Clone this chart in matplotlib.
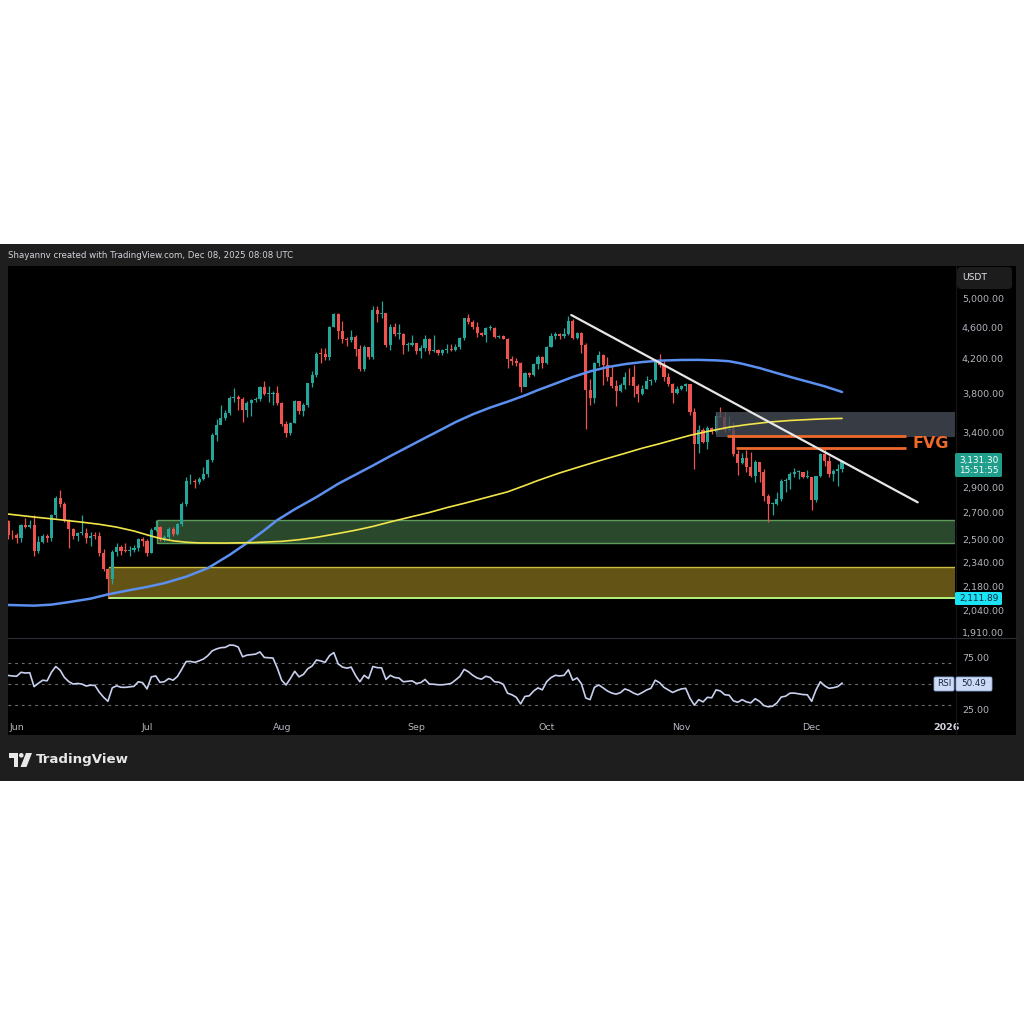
import matplotlib
matplotlib.use("Agg")
import matplotlib.pyplot as plt
import matplotlib.dates as mdates
from matplotlib.patches import Rectangle, FancyBboxPatch, Polygon, Circle
from matplotlib.transforms import blended_transform_factory
from matplotlib.ticker import NullLocator
import pandas as pd

# ---------------- data (ETH/USDT daily) ----------------
first_open = 2632
close_may = [2532, 2528]
high_may = [2645, 2570]
low_may = [2505, 2500]

close_jun = [2508, 2608, 2591, 2608, 2418, 2484, 2524, 2509, 2683, 2815, 2770, 2643, 2578, 2527, 2545,
             2545, 2511, 2526, 2524, 2404, 2298, 2228, 2408, 2445, 2418, 2417, 2424, 2436, 2500, 2486]
high_jun = [2545, 2610, 2660, 2640, 2680, 2525, 2535, 2540, 2690, 2830, 2880, 2780, 2650, 2580, 2550,
            2680, 2580, 2550, 2550, 2550, 2430, 2300, 2425, 2475, 2460, 2470, 2450, 2460, 2510, 2520]
low_jun = [2475, 2480, 2580, 2580, 2385, 2405, 2470, 2480, 2490, 2660, 2740, 2630, 2440, 2500, 2490,
           2530, 2470, 2450, 2500, 2380, 2285, 2112, 2200, 2380, 2390, 2410, 2380, 2410, 2420, 2450]

close_jul = [2406, 2570, 2590, 2508, 2516, 2572, 2540, 2614, 2770, 2952, 2958, 2943, 2972, 3013, 3140, 3371,
             3475, 3545, 3592, 3756, 3762, 3739, 3620, 3703, 3730, 3743, 3873, 3794, 3795, 3811, 3698]
high_jul = [2500, 2580, 2640, 2600, 2530, 2590, 2590, 2620, 2780, 2990, 3020, 2970, 2990, 3080, 3150, 3390,
            3530, 3680, 3620, 3770, 3860, 3780, 3760, 3720, 3740, 3760, 3880, 3940, 3880, 3830, 3880]
low_jul = [2385, 2400, 2560, 2490, 2490, 2500, 2525, 2530, 2600, 2750, 2930, 2900, 2930, 2960, 2990, 3125,
           3320, 3520, 3520, 3575, 3710, 3620, 3500, 3550, 3560, 3705, 3720, 3780, 3710, 3680, 3680]

close_aug = [3483, 3393, 3496, 3721, 3612, 3680, 3912, 4009, 4262, 4253, 4220, 4600, 4778, 4550, 4444, 4432,
             4474, 4318, 4075, 4340, 4226, 4833, 4781, 4785, 4375, 4600, 4509, 4509, 4367, 4375, 4391]
high_aug = [3710, 3510, 3500, 3730, 3720, 3700, 3920, 4060, 4285, 4330, 4330, 4620, 4790, 4785, 4680, 4475,
            4560, 4490, 4370, 4370, 4350, 4880, 4890, 4956, 4790, 4640, 4650, 4640, 4520, 4410, 4490]
low_aug = [3460, 3355, 3370, 3490, 3580, 3565, 3660, 3870, 3990, 4150, 4180, 4180, 4600, 4440, 4400, 4360,
           4410, 4230, 4060, 4060, 4200, 4200, 4670, 4720, 4340, 4310, 4480, 4450, 4260, 4300, 4360]

close_sep = [4300, 4326, 4450, 4298, 4307, 4273, 4306, 4309, 4304, 4348, 4459, 4718, 4666, 4605, 4520,
             4500, 4588, 4589, 4470, 4481, 4448, 4202, 4167, 4153, 3873, 4033, 4011, 4140, 4218, 4145]
high_sep = [4400, 4370, 4490, 4455, 4490, 4320, 4320, 4380, 4380, 4380, 4470, 4725, 4770, 4690, 4670,
            4530, 4600, 4630, 4600, 4490, 4490, 4460, 4230, 4210, 4160, 4040, 4040, 4150, 4240, 4230]
low_sep = [4260, 4210, 4290, 4260, 4280, 4250, 4250, 4270, 4300, 4290, 4320, 4430, 4640, 4570, 4470,
           4480, 4410, 4565, 4460, 4455, 4440, 4085, 4120, 4110, 3815, 3880, 3990, 4000, 4080, 4090]

close_oct = [4350, 4485, 4511, 4481, 4515, 4687, 4460, 4524, 4369, 3840, 3750, 4150, 4248, 4128, 3990, 3885,
             3830, 3890, 3985, 3980, 3880, 3800, 3855, 3935, 3950, 4160, 4120, 3980, 3905, 3810, 3850]
high_oct = [4360, 4520, 4535, 4520, 4590, 4750, 4710, 4535, 4530, 4395, 3960, 4160, 4290, 4260, 4220, 4110,
            3950, 3915, 4040, 4090, 4120, 3905, 3900, 3995, 3960, 4175, 4255, 4170, 4035, 3915, 3880]
low_oct = [4140, 4340, 4450, 4450, 4460, 4500, 4440, 4445, 4265, 3435, 3680, 3700, 4110, 3890, 3940, 3860,
           3670, 3820, 3855, 3900, 3760, 3710, 3785, 3850, 3895, 3930, 4100, 3940, 3885, 3700, 3800]

close_nov = [3880, 3905, 3605, 3290, 3425, 3310, 3440, 3400, 3560, 3555, 3420, 3420, 3190, 3110, 3160,
             3080, 3000, 3120, 3030, 2830, 2765, 2770, 2805, 2955, 2960, 3020, 3030, 3035, 2990, 2990]
high_nov = [3890, 3920, 3910, 3650, 3470, 3440, 3465, 3450, 3600, 3660, 3600, 3560, 3500, 3230, 3200,
            3235, 3210, 3140, 3105, 3060, 2850, 2780, 2860, 2970, 2980, 3030, 3070, 3050, 3020, 3050]
low_nov = [3840, 3830, 3575, 3060, 3200, 3300, 3240, 3380, 3380, 3550, 3400, 3410, 3180, 3010, 3100,
           3035, 2990, 2950, 2950, 2790, 2625, 2680, 2760, 2790, 2860, 2890, 2990, 2970, 2980, 2980]

close_dec = [2800, 2995, 3190, 3135, 3020, 3040, 3055, 3131.30]
high_dec = [2990, 3000, 3200, 3240, 3175, 3060, 3100, 3140]
low_dec = [2720, 2780, 2990, 3090, 2990, 2955, 2910, 3030]

rsi_may = [58, 57.5]
rsi_jun = [57.2, 61, 60.3, 60.6, 47.2, 50.5, 53.4, 52.8, 61, 66.6, 63, 56, 52, 49.7, 50.3,
           49.7, 47.8, 48.6, 48.4, 42, 37, 33.1, 46, 48, 46.6, 46.5, 47, 47.5, 51.9, 51]
rsi_jul = [45, 56.6, 57.5, 51.3, 52, 55, 53.4, 57, 64, 71.3, 71.5, 70.6, 72, 73.8, 77, 81.6,
           83.5, 84.7, 85, 87.2, 87, 85.3, 75.9, 77.5, 78, 78.5, 80.6, 75.3, 75, 74.7, 65]
rsi_aug = [53.4, 48.8, 55, 62, 56.6, 59, 64.4, 67, 72.8, 72, 70.6, 77, 80, 69.1, 66, 65,
           66, 58, 51.9, 58.1, 55, 66.6, 65.5, 65.3, 54.1, 58.1, 56, 55.5, 51.9, 52.3, 52.8]
rsi_sep = [50.3, 51, 54.1, 49.7, 49.5, 49, 49, 49.5, 50.3, 53.5, 57, 63.8, 61.5, 58.1, 55.5,
           54.4, 57.2, 56, 51.9, 51.5, 49.5, 40.9, 39.4, 37, 30.6, 37.8, 38.4, 43, 46, 44.1]
rsi_oct = [52, 55.9, 58.1, 57.5, 58.1, 63.4, 53.4, 55.6, 50, 36.3, 34.7, 46.6, 48.8, 46, 43, 41,
           40, 41.5, 45, 43.5, 41, 39.4, 41.5, 44, 45.6, 53.4, 51, 46.5, 44, 41.6, 43.5]
rsi_nov = [45, 45.6, 36, 29.4, 34.7, 32.5, 36.9, 36.5, 44.1, 43, 39.4, 39, 33.5, 32.2, 34.7,
           32.5, 31.6, 35.6, 33.1, 29, 27.8, 28.4, 31.5, 37.2, 38, 40.9, 41, 40.3, 39.6, 39.4]
rsi_dec = [33.1, 44, 51.9, 48, 45.6, 46.2, 47.2, 50.49]

blue_ma_dates = ['2025-05-30', '2025-06-05', '2025-06-09', '2025-06-13', '2025-06-18', '2025-06-22',
                 '2025-06-27', '2025-07-01', '2025-07-05', '2025-07-10', '2025-07-15', '2025-07-20',
                 '2025-07-24', '2025-07-28', '2025-07-31', '2025-08-04', '2025-08-09', '2025-08-14',
                 '2025-08-18', '2025-08-22', '2025-08-26', '2025-08-30', '2025-09-03', '2025-09-06',
                 '2025-09-10', '2025-09-14', '2025-09-18', '2025-09-22', '2025-09-26', '2025-09-29',
                 '2025-10-03', '2025-10-07', '2025-10-11', '2025-10-15', '2025-10-19', '2025-10-23',
                 '2025-10-27', '2025-11-01', '2025-11-05', '2025-11-09', '2025-11-12', '2025-11-15',
                 '2025-11-19', '2025-11-23', '2025-11-27', '2025-12-01', '2025-12-04', '2025-12-08']
blue_ma_vals = [2070, 2066, 2072, 2087, 2108, 2134, 2160, 2180, 2204, 2245, 2301, 2390,
                2473, 2565, 2642, 2725, 2822, 2932, 3010, 3090, 3175, 3259, 3345, 3410,
                3500, 3580, 3650, 3712, 3780, 3838, 3910, 3985, 4050, 4100, 4135, 4160,
                4177, 4185, 4186, 4180, 4170, 4140, 4089, 4030, 3973, 3920, 3880, 3817]

yellow_ma_dates = ['2025-05-30', '2025-06-05', '2025-06-10', '2025-06-16', '2025-06-20', '2025-06-24',
                   '2025-06-28', '2025-07-01', '2025-07-04', '2025-07-07', '2025-07-10', '2025-07-13',
                   '2025-07-19', '2025-07-25', '2025-08-01', '2025-08-05', '2025-08-09', '2025-08-14',
                   '2025-08-18', '2025-08-22', '2025-08-26', '2025-08-30', '2025-09-04', '2025-09-08',
                   '2025-09-12', '2025-09-17', '2025-09-22', '2025-09-26', '2025-09-29', '2025-10-04',
                   '2025-10-09', '2025-10-14', '2025-10-19', '2025-10-23', '2025-10-27', '2025-10-31',
                   '2025-11-03', '2025-11-07', '2025-11-12', '2025-11-16', '2025-11-21', '2025-11-26',
                   '2025-12-01', '2025-12-04', '2025-12-08']
yellow_ma_vals = [2688, 2665, 2648, 2626, 2610, 2589, 2560, 2532, 2506, 2489, 2479, 2474,
                  2473, 2476, 2485, 2497, 2514, 2542, 2566, 2594, 2628, 2660, 2700, 2738,
                  2772, 2818, 2865, 2918, 2960, 3025, 3084, 3143, 3200, 3248, 3290, 3336,
                  3370, 3408, 3450, 3475, 3500, 3517, 3528, 3534, 3538]

price_ticks = [5000, 4600, 4200, 3800, 3400, 2900, 2700, 2500, 2340, 2180, 2040, 1910]
rsi_ticks = [75, 25]
month_labels = ['Jun', 'Jul', 'Aug', 'Sep', 'Oct', 'Nov', 'Dec', '2026']
month_dates = ['2025-06-01', '2025-07-01', '2025-08-01', '2025-09-01', '2025-10-01', '2025-11-01',
               '2025-12-01', '2026-01-01']

green_zone = (2475, 2640, '2025-07-03')
yellow_zone = (2111.89, 2310, '2025-06-22')
gray_zone = (3355, 3606, '2025-11-09')
fvg_lines = [(3360, '2025-11-11 12:00'), (3252, '2025-11-13 14:00')]
fvg_end = '2025-12-22 16:00'
trend_pts = (('2025-10-06 16:00', 4762), ('2025-12-25 10:00', 2780))
last_price = 3131.30
last_rsi = 50.49

# ---------------- assemble ----------------
dates = pd.date_range('2025-05-30', '2025-12-08', freq='D')
closes = close_may + close_jun + close_jul + close_aug + close_sep + close_oct + close_nov + close_dec
highs = high_may + high_jun + high_jul + high_aug + high_sep + high_oct + high_nov + high_dec
lows = low_may + low_jun + low_jul + low_aug + low_sep + low_oct + low_nov + low_dec
rsi = rsi_may + rsi_jun + rsi_jul + rsi_aug + rsi_sep + rsi_oct + rsi_nov + rsi_dec
opens = [first_open] + closes[:-1]
xs = mdates.date2num(dates.to_pydatetime())

def dn(s):
    return mdates.date2num(pd.Timestamp(s).to_pydatetime())

W = H = 1024
fig = plt.figure(figsize=(10.24, 10.24), dpi=100, facecolor="white")

def fr(x0, y0, x1, y1):
    return [x0 / W, 1 - y1 / H, (x1 - x0) / W, (y1 - y0) / H]

def fx(x):
    return x / W

def fy(y):
    return 1 - y / H

TXT = '#b2b5be'
fig.add_artist(Rectangle((0, fy(781)), 1, (781 - 244) / H, transform=fig.transFigure,
                         facecolor="#1e1e1e", edgecolor="none", zorder=-10))
fig.add_artist(Rectangle((fx(8), fy(735)), (1016 - 8) / W, (735 - 266) / H, transform=fig.transFigure,
                         facecolor="#000000", edgecolor="none", zorder=-9))

fig.text(fx(8), fy(255.5), "Shayannv created with TradingView.com, Dec 08, 2025 08:08 UTC",
         color='#d1d4dc', fontsize=6.2, ha='left', va='center')

# separators
fig.add_artist(plt.Line2D([fx(8), fx(1016)], [fy(637.5), fy(637.5)], transform=fig.transFigure,
                          color='#2a2e39', lw=0.8, zorder=1))
fig.add_artist(plt.Line2D([fx(955.5), fx(955.5)], [fy(266), fy(735)], transform=fig.transFigure,
                          color='#151515', lw=0.8, zorder=1))

# ---------------- price pane ----------------
ax = fig.add_axes(fr(8, 266, 955, 637))
ax.set_facecolor('none')
ax.set_yscale('log')
xmin, xmax = dn('2025-05-30'), dn('2026-01-03')
ax.set_xlim(xmin, xmax)
ax.set_ylim(1888, 5482)
for s in ax.spines.values():
    s.set_visible(False)
ax.set_xticks([])
ax.yaxis.set_minor_locator(NullLocator())
ax.set_yticks(price_ticks)
ax.set_yticklabels([f"{v:,.2f}" for v in price_ticks])
ax.yaxis.tick_right()
ax.tick_params(axis='y', length=0, pad=5, labelsize=6.8, labelcolor=TXT)

# zones
gz0, gz1, gzd = green_zone
ax.add_patch(Rectangle((dn(gzd) + 0.3, gz0), xmax - dn(gzd), gz1 - gz0, facecolor='#2a482c',
                       edgecolor='#5e9a5a', lw=1.0, zorder=1))
yz0, yz1, yzd = yellow_zone
ax.add_patch(Rectangle((dn(yzd) + 0.2, yz0), xmax - dn(yzd), yz1 - yz0, facecolor='#635416',
                       edgecolor='none', zorder=1))
ax.plot([dn(yzd) + 0.2, xmax], [yz1, yz1], color='#cdbd3c', lw=1.0, zorder=2)
ax.plot([dn(yzd) + 0.2, xmax], [yz0, yz0], color='#b5f27c', lw=1.4, zorder=2)

# candles
UP, DOWN = '#26a69a', '#ef5350'
for xi, o, h, l, c in zip(xs, opens, highs, lows, closes):
    col = UP if c >= o else DOWN
    ax.plot([xi, xi], [l, h], color=col, lw=0.9, solid_capstyle='butt', zorder=3)
    bh = max(abs(c - o), o * 0.0025)
    ax.add_patch(Rectangle((xi - 0.36, min(o, c)), 0.72, bh, facecolor=col, edgecolor='none', zorder=3))

# gray box over candles
gr0, gr1, grd = gray_zone
ax.add_patch(Rectangle((dn(grd), gr0), xmax - dn(grd), gr1 - gr0, facecolor='#444b56',
                       edgecolor='none', alpha=0.8, zorder=4))

# moving averages
ax.plot(mdates.date2num(pd.to_datetime(blue_ma_dates).to_pydatetime()), blue_ma_vals,
        color='#5b8ff0', lw=1.8, zorder=5, solid_capstyle='round', solid_joinstyle='round')
ax.plot(mdates.date2num(pd.to_datetime(yellow_ma_dates).to_pydatetime()), yellow_ma_vals,
        color='#f1e54a', lw=1.2, zorder=5, solid_capstyle='round', solid_joinstyle='round')

# FVG lines
for lvl, start in fvg_lines:
    ax.plot([dn(start), dn(fvg_end)], [lvl, lvl], color='#ee6a2c', lw=2.0, zorder=6,
            solid_capstyle='butt')
fig.text(fx(912), fy(443), "FVG", color='#ee6a2c', fontsize=11.5, fontweight='bold',
         ha='left', va='center')

# trendline
(t0d, t0p), (t1d, t1p) = trend_pts
ax.plot([dn(t0d), dn(t1d)], [t0p, t1p], color='#e6e6e6', lw=1.6, zorder=7, solid_capstyle='round')

# ---------------- RSI pane ----------------
ax2 = fig.add_axes(fr(8, 638, 955, 717))
ax2.set_facecolor('none')
ax2.set_xlim(xmin, xmax)
ax2.set_ylim(18, 94)
for s in ax2.spines.values():
    s.set_visible(False)
ax2.set_xticks([])
ax2.set_yticks(rsi_ticks)
ax2.set_yticklabels([f"{v:.2f}" for v in rsi_ticks])
ax2.yaxis.tick_right()
ax2.tick_params(axis='y', length=0, pad=5, labelsize=6.8, labelcolor=TXT)
for lvl in (70, 50, 30):
    ax2.axhline(lvl, color='#6b6e78', lw=0.8, dashes=(2.5, 3.5), zorder=1)
ax2.plot(xs, rsi, color='#c9d0ee', lw=1.2, zorder=3)

tr = blended_transform_factory(ax2.transData, fig.transFigure)
for lab, d in zip(month_labels, month_dates):
    bold = lab == '2026'
    ax2.text(dn(d), fy(727), lab, transform=tr, ha='center', va='center', fontsize=6.8,
             color='#d1d4dc' if bold else TXT, fontweight='bold' if bold else 'normal', clip_on=False)

# ---------------- right-side labels ----------------
def label_box(x0, y0, x1, y1, fc, ec=None, rnd=0.002):
    fig.add_artist(FancyBboxPatch((fx(x0), fy(y1)), (x1 - x0) / W, (y1 - y0) / H,
                                  boxstyle=f"round,pad=0,rounding_size={rnd}",
                                  transform=fig.transFigure, facecolor=fc,
                                  edgecolor=ec if ec else 'none', lw=0.6, zorder=8))

label_box(957, 267, 1012, 289, '#1c1c1c', rnd=0.004)
fig.text(fx(962), fy(278), "USDT", color='#e0e3eb', fontsize=6.6, ha='left', va='center', zorder=9)

label_box(955, 453, 1002, 477, '#1f9e8b', rnd=0.0015)
fig.text(fx(978.5), fy(460), f"{last_price:,.2f}", color='white', fontsize=6.4, ha='center', va='center', zorder=9)
fig.text(fx(978.5), fy(470.5), "15:51:55", color='white', fontsize=6.4, ha='center', va='center', zorder=9)

label_box(955, 592, 1002, 605, '#19e3f5', rnd=0.0015)
fig.text(fx(978.5), fy(598.5), f"{yz0:,.2f}", color='#10223a', fontsize=6.4, ha='center', va='center', zorder=9)

label_box(934, 677, 954, 691, '#cddaf6', ec='#8ea6d8', rnd=0.0015)
fig.text(fx(944), fy(684), "RSI", color='#1b2640', fontsize=6.3, ha='center', va='center', zorder=9)
label_box(956, 677, 992, 691, '#cddaf6', ec='#8ea6d8', rnd=0.0015)
fig.text(fx(974), fy(684), f"{last_rsi:.2f}", color='#1b2640', fontsize=6.3, ha='center', va='center', zorder=9)

# ---------------- TradingView logo ----------------
logo_col = '#e8e8e8'
fig.add_artist(Polygon([(fx(9), fy(753)), (fx(18), fy(753)), (fx(18), fy(767)), (fx(13.5), fy(767)),
                        (fx(13.5), fy(757.5)), (fx(9), fy(757.5))], closed=True,
                       transform=fig.transFigure, facecolor=logo_col, edgecolor='none', zorder=9))
fig.add_artist(Circle((fx(21.3), fy(755.3)), 2.3 / W, transform=fig.transFigure,
                      facecolor=logo_col, edgecolor='none', zorder=9))
fig.add_artist(Polygon([(fx(26), fy(753)), (fx(32), fy(753)), (fx(26.5), fy(767)), (fx(20.5), fy(767))],
                       closed=True, transform=fig.transFigure, facecolor=logo_col, edgecolor='none', zorder=9))
fig.text(fx(36), fy(760), "TradingView", color=logo_col, fontsize=9.6, fontweight='bold',
         ha='left', va='center')

fig.savefig("out.png", dpi=100, facecolor="white")
